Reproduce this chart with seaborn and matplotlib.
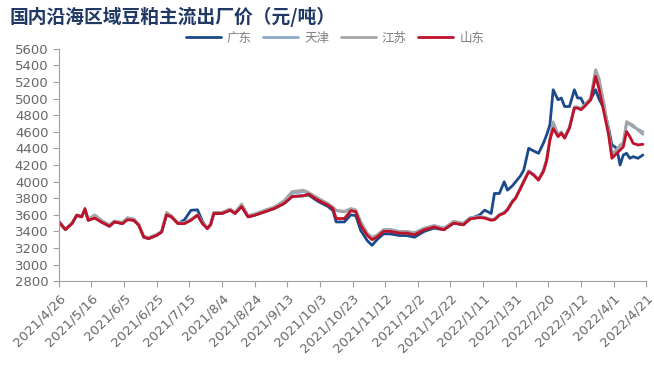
#!/usr/bin/env python3

import matplotlib
matplotlib.use('Agg')
import matplotlib.pyplot as plt
import seaborn as sns
import numpy as np
import pandas as pd

# days since 2021/4/26
days = [0, 4, 8, 11, 14, 16, 18, 22, 26, 31, 34, 39, 42, 46, 49, 52, 55, 60, 63,
        66, 69, 73, 77, 81, 85, 88, 91, 93, 95, 100, 105, 108, 112, 116, 120,
        126, 132, 138, 143, 150, 153, 159, 165, 168, 170, 175, 179, 182, 185,
        189, 192, 195, 199, 203, 209, 213, 218, 224, 230, 236, 242, 248, 252,
        258, 261, 265, 267, 270, 273, 275, 278, 280, 283, 285, 288, 291, 294,
        297, 299, 301, 303, 306, 308, 310, 313, 316, 318, 320, 322, 326, 329,
        331, 334, 337, 339, 342, 344, 346, 348, 350, 352, 355, 358]

shandong = [3514, 3422, 3494, 3595, 3575, 3676, 3534, 3560, 3514, 3462, 3514,
            3494, 3540, 3534, 3474, 3332, 3313, 3353, 3393, 3600, 3575, 3494,
            3494, 3534, 3595, 3494, 3434, 3480, 3616, 3616, 3656, 3616, 3700,
            3575, 3595, 3635, 3676, 3736, 3820, 3830, 3850, 3776, 3716, 3676,
            3555, 3555, 3650, 3636, 3474, 3353, 3300, 3332, 3400, 3400, 3380,
            3380, 3360, 3420, 3453, 3420, 3500, 3480, 3550, 3567, 3560, 3534,
            3540, 3595, 3620, 3660, 3756, 3800, 3918, 4000, 4119, 4079, 4018,
            4120, 4250, 4500, 4640, 4542, 4583, 4523, 4644, 4886, 4886, 4866,
            4900, 4986, 5268, 5128, 4845, 4563, 4281, 4341, 4380, 4420, 4603,
            4543, 4462, 4442, 4450]

guangdong = [3514, 3422, 3494, 3595, 3575, 3660, 3534, 3570, 3514, 3462, 3514,
             3494, 3550, 3534, 3474, 3332, 3313, 3353, 3393, 3600, 3575, 3494,
             3540, 3655, 3660, 3520, 3434, 3480, 3616, 3616, 3656, 3616, 3700,
             3575, 3595, 3635, 3676, 3736, 3820, 3830, 3840, 3760, 3700, 3650,
             3514, 3514, 3600, 3590, 3413, 3290, 3232, 3300, 3370, 3370, 3350,
             3350, 3330, 3400, 3440, 3420, 3500, 3480, 3550, 3600, 3656, 3616,
             3857, 3857, 3998, 3897, 3950, 3998, 4070, 4140, 4402, 4370, 4341,
             4462, 4563, 4684, 5107, 4986, 5007, 4905, 4905, 5107, 5007, 5007,
             4926, 4986, 5107, 5000, 4886, 4644, 4442, 4402, 4200, 4321, 4341,
             4281, 4301, 4281, 4321]

tianjin = [3520, 3430, 3500, 3590, 3580, 3650, 3545, 3590, 3530, 3480, 3520,
           3510, 3560, 3545, 3480, 3345, 3325, 3365, 3400, 3620, 3585, 3505,
           3505, 3545, 3600, 3505, 3445, 3490, 3625, 3625, 3665, 3630, 3720,
           3590, 3610, 3650, 3690, 3760, 3860, 3880, 3860, 3790, 3730, 3690,
           3650, 3635, 3670, 3650, 3510, 3370, 3320, 3350, 3420, 3425, 3400,
           3400, 3385, 3440, 3470, 3440, 3520, 3500, 3565, 3580, 3570, 3545,
           3550, 3600, 3630, 3670, 3770, 3810, 3930, 4010, 4130, 4090, 4030,
           4140, 4270, 4520, 4700, 4570, 4600, 4540, 4660, 4900, 4900, 4880,
           4920, 5000, 5340, 5240, 4940, 4620, 4330, 4390, 4430, 4470, 4700,
           4690, 4660, 4630, 4600]

jiangsu = [3525, 3420, 3495, 3600, 3585, 3660, 3550, 3600, 3535, 3475, 3525,
           3505, 3565, 3550, 3485, 3340, 3320, 3360, 3400, 3630, 3590, 3500,
           3500, 3540, 3600, 3500, 3440, 3485, 3630, 3630, 3670, 3625, 3730,
           3590, 3605, 3655, 3695, 3770, 3880, 3897, 3870, 3800, 3735, 3690,
           3655, 3640, 3676, 3660, 3520, 3380, 3330, 3355, 3420, 3420, 3395,
           3400, 3380, 3435, 3470, 3435, 3520, 3495, 3560, 3575, 3565, 3540,
           3545, 3600, 3625, 3665, 3760, 3805, 3925, 4005, 4125, 4085, 4025,
           4130, 4260, 4510, 4720, 4560, 4590, 4530, 4655, 4895, 4895, 4875,
           4910, 4995, 5350, 5250, 4950, 4600, 4320, 4380, 4440, 4460, 4724,
           4700, 4680, 4620, 4570]

regions = ['广东', '天津', '江苏', '山东']
colors = ['#1B4A8A', '#8EA8C8', '#A5A5A5', '#C0112B']

start = pd.Timestamp('2021-04-26')
end = pd.Timestamp('2022-04-21')


def main():
    dates = start + pd.to_timedelta(days, unit='D')
    df = pd.concat([
        pd.DataFrame({'date': dates, 'price': vals, 'region': name})
        for name, vals in zip(regions, [guangdong, tianjin, jiangsu, shandong])
    ])

    sns.set_style('white')
    plt.rcParams['font.family'] = ['Noto Sans CJK SC', 'DejaVu Sans']

    fig, ax = plt.subplots(figsize=(6.54, 3.70), dpi=100)
    fig.subplots_adjust(left=0.090, right=0.988, top=0.868, bottom=0.24)

    sns.lineplot(data=df, x='date', y='price', hue='region',
                 hue_order=regions, palette=colors, linewidth=2, ax=ax)

    ax.set_ylim(2800, 5600)
    ax.set_yticks(np.arange(2800, 5601, 200))
    ax.set_xlim(start, end)
    ticks = pd.date_range(start, end, freq='20D')
    ax.set_xticks(ticks)
    ax.set_xticklabels(['{}/{}/{}'.format(d.year, d.month, d.day) for d in ticks],
                       rotation=45, ha='right', rotation_mode='anchor',
                       fontfamily='DejaVu Sans')
    for lab in ax.get_yticklabels():
        lab.set_fontfamily('DejaVu Sans')
    ax.tick_params(axis='both', colors='#A0A0A0', labelcolor='#666666',
                   labelsize=9.5, length=4, width=0.8, direction='out',
                   bottom=True, left=True)
    ax.set_xlabel('')
    ax.set_ylabel('')
    sns.despine(ax=ax)
    for s in ['left', 'bottom']:
        ax.spines[s].set_color('#A0A0A0')
        ax.spines[s].set_linewidth(0.8)

    ax.legend(loc='lower center', bbox_to_anchor=(0.47, 0.97), ncol=4,
              frameon=False, fontsize=9, handlelength=2.8, handletextpad=0.5,
              columnspacing=0.9, labelcolor='#7F7F7F')

    fig.text(0.015, 0.955, '国内沿海区域豆粕主流出厂价（元/吨）', fontsize=13.5,
             fontweight='bold', color='#1F3864', va='center')

    fig.savefig('out.png', dpi=100)


if __name__ == "__main__":
    main()
